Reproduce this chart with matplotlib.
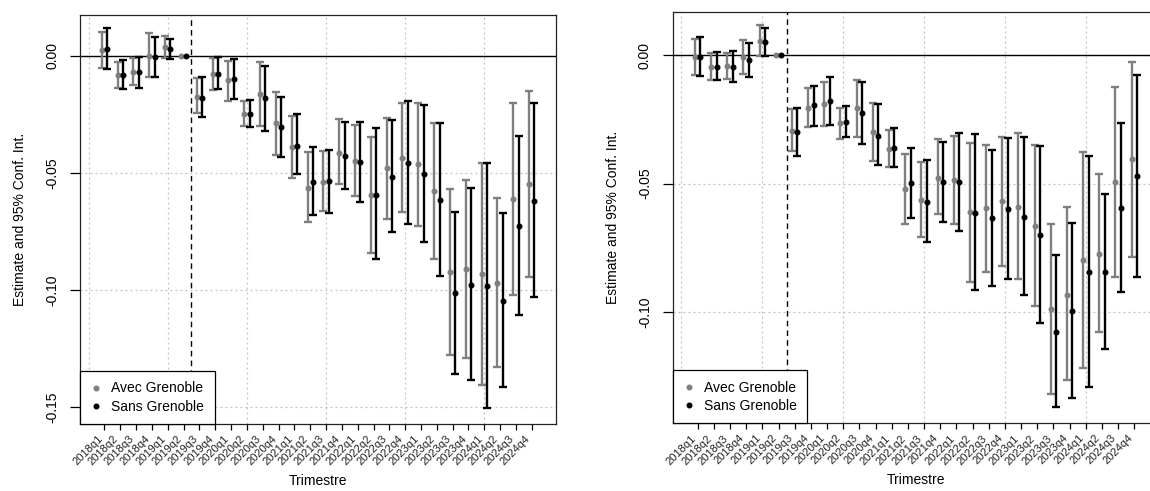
import matplotlib
matplotlib.use("Agg")
import matplotlib.pyplot as plt
import numpy as np
from matplotlib.lines import Line2D

plt.rcParams["font.family"] = ["Liberation Sans", "DejaVu Sans"]

# Quarters of the event study; 2019q2 is the reference period
quarters = [f"{y}q{q}" for y in range(2018, 2025) for q in range(1, 5)]
ref_idx = quarters.index("2019q2")

# ---------------------------------------------------------------------------
# Panel 1 estimates
# ---------------------------------------------------------------------------
p1_avec_est = [0.0026, -0.0083, -0.0067, 0.0000, 0.0037, 0.0, -0.0174, -0.0076,
               -0.0104, -0.0247, -0.0164, -0.0286, -0.0388, -0.0565, -0.0537, -0.0413,
               -0.0447, -0.0594, -0.0480, -0.0435, -0.0463, -0.0576, -0.0923, -0.0912,
               -0.0932, -0.0969, -0.0611, -0.0548]
p1_avec_lo = [-0.0051, -0.0137, -0.0125, -0.0091, -0.0011, 0.0, -0.0245, -0.0145,
              -0.0191, -0.0299, -0.0299, -0.0424, -0.0523, -0.0709, -0.0661, -0.0548,
              -0.0598, -0.0841, -0.0695, -0.0665, -0.0729, -0.0866, -0.1279, -0.1293,
              -0.1406, -0.1329, -0.1021, -0.0946]
p1_avec_hi = [0.0101, -0.0027, -0.0009, 0.0097, 0.0087, 0.0, -0.0094, -0.0007,
              -0.0023, -0.0191, -0.0028, -0.0155, -0.0255, -0.0412, -0.0406, -0.0269,
              -0.0295, -0.0345, -0.0265, -0.0200, -0.0201, -0.0288, -0.0567, -0.0531,
              -0.0456, -0.0607, -0.0200, -0.0148]
p1_sans_est = [0.0029, -0.0080, -0.0067, -0.0004, 0.0029, 0.0, -0.0178, -0.0076,
               -0.0100, -0.0247, -0.0178, -0.0302, -0.0383, -0.0540, -0.0534, -0.0427,
               -0.0454, -0.0594, -0.0516, -0.0459, -0.0504, -0.0615, -0.1014, -0.0977,
               -0.0983, -0.1047, -0.0726, -0.0620]
p1_sans_lo = [-0.0056, -0.0141, -0.0135, -0.0091, -0.0014, 0.0, -0.0261, -0.0140,
              -0.0184, -0.0302, -0.0321, -0.0433, -0.0506, -0.0678, -0.0670, -0.0570,
              -0.0624, -0.0870, -0.0753, -0.0719, -0.0796, -0.0942, -0.1359, -0.1385,
              -0.1506, -0.1416, -0.1107, -0.1031]
p1_sans_hi = [0.0118, -0.0018, -0.0006, 0.0083, 0.0073, 0.0, -0.0088, -0.0006,
              -0.0014, -0.0188, -0.0044, -0.0175, -0.0249, -0.0390, -0.0402, -0.0281,
              -0.0281, -0.0309, -0.0275, -0.0192, -0.0211, -0.0285, -0.0667, -0.0563,
              -0.0456, -0.0672, -0.0342, -0.0200]

# ---------------------------------------------------------------------------
# Panel 2 estimates
# ---------------------------------------------------------------------------
p2_avec_est = [-0.0005, -0.0044, -0.0041, -0.0008, 0.0057, 0.0, -0.0295, -0.0206,
               -0.0190, -0.0265, -0.0206, -0.0300, -0.0365, -0.0522, -0.0564, -0.0477,
               -0.0486, -0.0609, -0.0596, -0.0568, -0.0592, -0.0665, -0.0990, -0.0934,
               -0.0797, -0.0774, -0.0492, -0.0405]
p2_avec_lo = [-0.0076, -0.0096, -0.0092, -0.0073, -0.0003, 0.0, -0.0373, -0.0281,
              -0.0275, -0.0325, -0.0317, -0.0412, -0.0434, -0.0656, -0.0708, -0.0619,
              -0.0657, -0.0882, -0.0845, -0.0821, -0.0873, -0.0975, -0.1318, -0.1265,
              -0.1217, -0.1079, -0.0862, -0.0785]
p2_avec_hi = [0.0064, 0.0008, 0.0010, 0.0058, 0.0118, 0.0, -0.0209, -0.0129,
              -0.0103, -0.0204, -0.0096, -0.0187, -0.0291, -0.0386, -0.0414, -0.0326,
              -0.0313, -0.0340, -0.0349, -0.0317, -0.0301, -0.0349, -0.0658, -0.0592,
              -0.0376, -0.0462, -0.0122, -0.0025]
p2_sans_est = [-0.0005, -0.0044, -0.0044, -0.0019, 0.0051, 0.0, -0.0300, -0.0194,
               -0.0178, -0.0260, -0.0226, -0.0313, -0.0360, -0.0499, -0.0572, -0.0492,
               -0.0494, -0.0613, -0.0634, -0.0598, -0.0629, -0.0701, -0.1077, -0.0995,
               -0.0845, -0.0845, -0.0596, -0.0470]
p2_sans_lo = [-0.0079, -0.0097, -0.0103, -0.0083, -0.0003, 0.0, -0.0391, -0.0274,
              -0.0273, -0.0318, -0.0347, -0.0429, -0.0434, -0.0634, -0.0729, -0.0649,
              -0.0683, -0.0914, -0.0900, -0.0873, -0.0933, -0.1043, -0.1371, -0.1336,
              -0.1293, -0.1144, -0.0923, -0.0862]
p2_sans_hi = [0.0072, 0.0012, 0.0017, 0.0047, 0.0105, 0.0, -0.0206, -0.0118,
              -0.0086, -0.0196, -0.0103, -0.0191, -0.0283, -0.0362, -0.0409, -0.0339,
              -0.0302, -0.0308, -0.0368, -0.0321, -0.0319, -0.0353, -0.0779, -0.0653,
              -0.0393, -0.0541, -0.0265, -0.0077]

series_labels = ["Avec Grenoble", "Sans Grenoble"]
series_colors = ["#7f7f7f", "#000000"]
offset = 0.17


def draw_panel(ax, series, ylim, yticks):
    x = np.arange(len(quarters))
    keep = x != ref_idx
    for k, (est, lo, hi) in enumerate(series):
        est, lo, hi = map(np.asarray, (est, lo, hi))
        xs = x + (k - 0.5) * 2 * offset
        col = series_colors[k]
        ax.errorbar(xs[keep], est[keep], yerr=[est[keep] - lo[keep], hi[keep] - est[keep]],
                    fmt="none", ecolor=col, elinewidth=1.7, capsize=3, capthick=1.7,
                    zorder=3 + k)
        ax.plot(xs, est, "o", color=col, ms=3.3, zorder=4 + k)

    ax.axhline(0, color="black", lw=1.0, zorder=2)
    ax.axvline(ref_idx + 0.5, color="black", lw=1.0, ls=(0, (4, 3)), zorder=2)

    ax.set_xlim(-1.54, 28.53)
    ax.set_ylim(*ylim)
    ax.set_xticks(x)
    ax.set_xticklabels(quarters, rotation=45, ha="right", va="top", fontsize=8,
                       color="#222222")
    ax.set_yticks(yticks)
    ax.set_yticklabels([f"{v:.2f}" for v in yticks], rotation=90, va="center",
                       fontsize=10)
    ax.tick_params(axis="x", length=4, width=0.9, pad=3)
    ax.tick_params(axis="y", length=7, width=0.9, pad=8)

    # dotted reference grid
    for gx in range(-1, 28, 5):
        ax.axvline(gx, color="#c0c0c0", lw=0.9, ls=(0, (1.5, 2.5)), zorder=1)
    for gy in yticks:
        ax.axhline(gy, color="#c0c0c0", lw=0.9, ls=(0, (1.5, 2.5)), zorder=1)

    for sp in ax.spines.values():
        sp.set_linewidth(0.9)
        sp.set_color("#222222")

    ax.set_xlabel("Trimestre", fontsize=10, labelpad=5)
    ax.set_ylabel("Estimate and 95% Conf. Int.", fontsize=10, labelpad=13)

    handles = [Line2D([], [], ls="none", marker="o", ms=3.3, color=c) for c in series_colors]
    leg = ax.legend(handles, series_labels, loc="lower left", bbox_to_anchor=(0, 0),
                    borderaxespad=0, fancybox=False, edgecolor="black", fontsize=10,
                    handlelength=0.8, handletextpad=0.7, borderpad=0.75, labelspacing=0.3,
                    framealpha=1)
    leg.get_frame().set_linewidth(0.9)
    leg.set_zorder(10)


fig = plt.figure(figsize=(11.5, 4.91), dpi=100)
ax1 = fig.add_axes([0.0696, 0.1365, 0.4139, 0.833])
ax2 = fig.add_axes([0.585, 0.1379, 0.4229, 0.8383])

draw_panel(ax1, [(p1_avec_est, p1_avec_lo, p1_avec_hi), (p1_sans_est, p1_sans_lo, p1_sans_hi)],
           (-0.1573, 0.0175), [0.0, -0.05, -0.10, -0.15])
draw_panel(ax2, [(p2_avec_est, p2_avec_lo, p2_avec_hi), (p2_sans_est, p2_sans_lo, p2_sans_hi)],
           (-0.1434, 0.0170), [0.0, -0.05, -0.10])

fig.savefig("out.png", dpi=100)
